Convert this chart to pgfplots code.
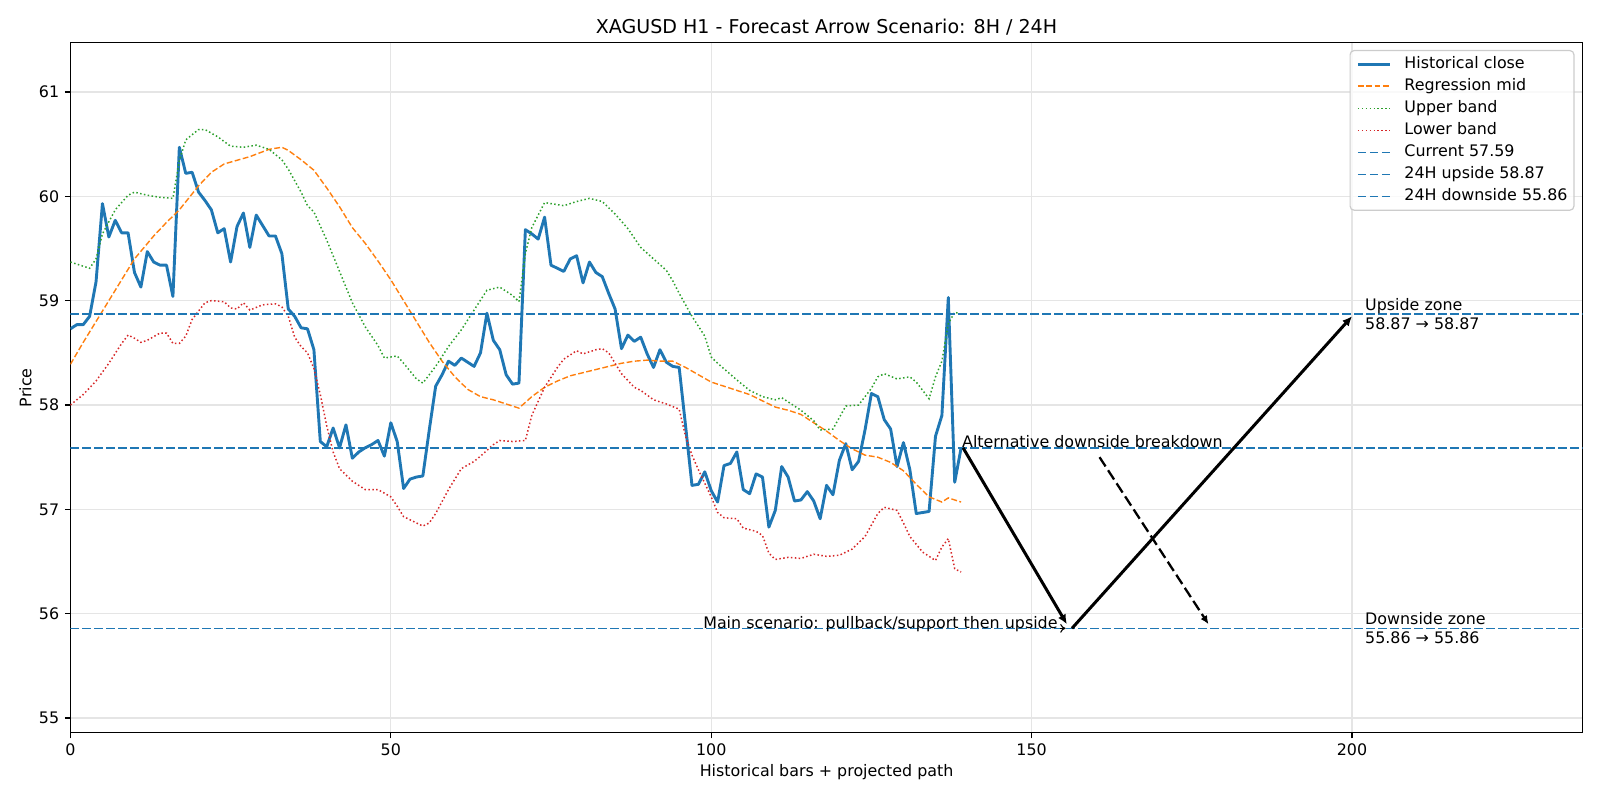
\documentclass[border=0pt]{standalone}
\usepackage{fontspec}
\setmainfont{DejaVu Sans}
\usepackage{pgfplots}
\pgfplotsset{compat=1.18}
\usetikzlibrary{arrows.meta}
\definecolor{tabblue}{HTML}{1F77B4}
\definecolor{taborange}{HTML}{FF7F0E}
\definecolor{tabgreen}{HTML}{2CA02C}
\definecolor{tabred}{HTML}{D62728}
\newcommand{\fs}{\fontsize{7.94bp}{9.5bp}\selectfont}

\pgfplotstableread{
x y
0 58.73
1 58.77
2 58.77
3 58.85
4 59.18
5 59.93
6 59.61
7 59.77
8 59.65
9 59.65
10 59.27
11 59.13
12 59.47
13 59.37
14 59.34
15 59.34
16 59.04
17 60.47
18 60.22
19 60.23
20 60.04
21 59.96
22 59.87
23 59.65
24 59.69
25 59.37
26 59.71
27 59.84
28 59.51
29 59.82
30 59.72
31 59.62
32 59.62
33 59.45
34 58.92
35 58.85
36 58.74
37 58.73
38 58.53
39 57.65
40 57.60
41 57.78
42 57.59
43 57.81
44 57.49
45 57.55
46 57.59
47 57.62
48 57.66
49 57.51
50 57.83
51 57.65
52 57.20
53 57.29
54 57.31
55 57.32
56 57.76
57 58.18
58 58.29
59 58.42
60 58.38
61 58.45
62 58.41
63 58.37
64 58.50
65 58.88
66 58.62
67 58.53
68 58.29
69 58.20
70 58.21
71 59.68
72 59.64
73 59.59
74 59.80
75 59.34
76 59.31
77 59.28
78 59.40
79 59.43
80 59.17
81 59.37
82 59.27
83 59.23
84 59.07
85 58.92
86 58.54
87 58.67
88 58.61
89 58.65
90 58.49
91 58.36
92 58.53
93 58.41
94 58.37
95 58.36
96 57.80
97 57.23
98 57.24
99 57.36
100 57.18
101 57.07
102 57.42
103 57.44
104 57.55
105 57.19
106 57.15
107 57.34
108 57.31
109 56.83
110 56.99
111 57.41
112 57.31
113 57.08
114 57.09
115 57.17
116 57.08
117 56.91
118 57.23
119 57.14
120 57.47
121 57.63
122 57.38
123 57.46
124 57.76
125 58.11
126 58.08
127 57.86
128 57.77
129 57.41
130 57.64
131 57.38
132 56.96
133 56.97
134 56.98
135 57.70
136 57.90
137 59.03
138 57.26
139 57.59
}\closetable

\pgfplotstableread{
x y
0 58.39
2 58.60
5 58.90
8 59.20
10 59.40
13 59.62
15 59.75
17 59.87
20 60.10
22 60.23
24 60.31
28 60.38
31 60.45
33 60.47
34 60.44
36 60.35
38 60.25
40 60.08
42 59.90
44 59.70
46 59.55
48 59.38
50 59.20
52 59.00
54 58.80
56 58.60
58 58.42
60 58.27
62 58.15
64 58.08
66 58.05
68 58.01
70 57.97
72 58.08
74 58.17
76 58.23
78 58.28
80 58.31
82 58.34
84 58.37
86 58.40
88 58.42
90 58.43
92 58.42
94 58.42
96 58.36
98 58.29
100 58.22
102 58.18
104 58.14
106 58.10
108 58.04
110 57.98
112 57.95
114 57.91
116 57.83
118 57.75
120 57.66
122 57.58
124 57.52
126 57.50
128 57.45
130 57.37
132 57.24
134 57.12
136 57.07
137 57.11
139 57.07
}\midtable

\pgfplotstableread{
x y
0 59.37
3 59.31
4 59.40
5 59.64
7 59.87
9 60.01
10 60.04
12 60.01
14 59.99
16 59.98
17 60.34
18 60.54
20 60.64
21 60.64
23 60.57
25 60.48
27 60.47
29 60.49
31 60.45
33 60.35
34 60.26
36 60.04
37 59.91
38 59.85
40 59.58
42 59.28
44 58.98
46 58.75
48 58.57
49 58.45
51 58.47
52 58.40
54 58.25
55 58.21
57 58.37
59 58.56
61 58.72
63 58.91
65 59.10
67 59.13
69 59.05
70 58.99
71 59.45
72 59.70
74 59.94
77 59.91
79 59.95
81 59.98
83 59.95
85 59.83
87 59.69
89 59.51
91 59.40
93 59.29
94 59.19
95 59.07
97 58.85
99 58.66
100 58.46
101 58.40
104 58.24
106 58.14
108 58.08
110 58.05
111 58.07
114 57.95
116 57.85
117 57.76
119 57.77
121 57.99
123 58.00
125 58.16
126 58.27
127 58.30
129 58.25
131 58.27
132 58.22
134 58.06
135 58.27
136 58.42
137 58.78
138 58.89
139 58.87
}\uppertable

\pgfplotstableread{
x y
0 58.00
2 58.10
4 58.23
6 58.40
8 58.59
9 58.67
10 58.64
11 58.60
12 58.62
14 58.69
15 58.69
16 58.59
17 58.59
18 58.66
19 58.82
20 58.90
21 58.98
22 59.00
24 58.99
25 58.93
26 58.92
27 58.98
28 58.91
30 58.96
32 58.97
33 58.94
34 58.85
35 58.65
36 58.56
37 58.50
38 58.35
39 58.10
40 57.80
41 57.55
42 57.39
44 57.27
46 57.19
48 57.19
50 57.12
51 57.03
52 56.93
54 56.87
55 56.84
56 56.87
57 56.96
59 57.19
61 57.39
63 57.46
64 57.51
66 57.62
67 57.66
69 57.65
71 57.66
72 57.90
74 58.17
76 58.36
77 58.44
79 58.52
80 58.49
82 58.53
83 58.54
84 58.50
86 58.30
88 58.17
89 58.14
91 58.05
93 58.01
95 57.96
96 57.70
97 57.52
98 57.38
100 57.12
101 56.97
102 56.92
104 56.91
105 56.82
107 56.79
108 56.75
109 56.58
110 56.52
112 56.54
114 56.53
116 56.57
118 56.55
120 56.56
122 56.62
124 56.74
126 56.96
127 57.02
129 56.99
130 56.87
131 56.74
133 56.59
135 56.51
136 56.64
137 56.72
138 56.43
139 56.40
}\lowertable

\begin{document}
\fs
\begin{tikzpicture}[font=\fs]
\useasboundingbox (-35.2bp,-33.65bp) rectangle (764.8bp,366.35bp);
\begin{axis}[
  at={(0,0)}, anchor=south west,
  scale only axis, width=756.15bp, height=344.9bp,
  xmin=0, xmax=236, ymin=54.86, ymax=61.47,
  xtick={0,50,100,150,200}, ytick={55,56,57,58,59,60,61},
  grid=major, major grid style={draw=black!10, line width=0.6bp},
  tick align=outside, tick pos=left, major tick length=2.78bp,
  every tick/.style={black, line width=0.6bp},
  axis line style={line width=0.6bp},
  /pgf/number format/assume math mode=true,
  ticklabel style={font=\fs},
  every axis title shift=0pt,
  title={XAGUSD H1 - Forecast Arrow Scenario: 8H / 24H},
  title style={font=\fontsize{9.52bp}{11.4bp}\selectfont, at={(axis description cs:0.5,1)}, anchor=base, yshift=4.8bp},
  xlabel={Historical bars + projected path},
  xlabel style={font=\fs, at={(axis description cs:0.5,0)}, anchor=base, yshift=-22bp},
  ylabel={Price},
  ylabel style={font=\fs, at={(axis description cs:-0.02976,0.5)}, anchor=center},
  legend cell align=left,
  legend style={at={(1,1)}, anchor=north east, xshift=-4.1bp, yshift=-3.55bp,
    draw=black!20, line width=0.6bp, rounded corners=2bp, fill=white, fill opacity=0.8, text opacity=1,
    font=\fs, inner xsep=3.2bp, inner ysep=2.8bp, row sep=3.15bp,
    nodes={inner sep=0pt, text height=6.0bp, text depth=1.9bp},
    /tikz/every odd column/.append style={column sep=6.6bp}},
  legend image code/.code={\draw[#1] (0bp,0bp) -- (15.9bp,0bp);},
  clip=true,
]
\addplot[tabblue, line width=1.45bp, line join=round] table {\closetable};
\addlegendentry{Historical close}
\addplot[taborange, line width=0.7bp, dash pattern=on 2.9bp off 1.25bp] table {\midtable};
\addlegendentry{Regression mid}
\addplot[tabgreen, line width=0.75bp, dash pattern=on 0.75bp off 1.2bp] table {\uppertable};
\addlegendentry{Upper band}
\addplot[tabred, line width=0.75bp, dash pattern=on 0.75bp off 1.2bp] table {\lowertable};
\addlegendentry{Lower band}
\addplot[tabblue, line width=0.8bp, dash pattern=on 4.2bp off 1.8bp] coordinates {(0,57.59) (236,57.59)};
\addlegendentry{Current 57.59}
\addplot[tabblue, line width=0.8bp, dash pattern=on 4.2bp off 1.8bp] coordinates {(0,58.87) (236,58.87)};
\addlegendentry{24H upside 58.87}
\addplot[tabblue, line width=0.8bp, dash pattern=on 4.2bp off 1.8bp] coordinates {(0,55.86) (236,55.86)};
\addlegendentry{24H downside 55.86}

% scenario arrows
\addplot[black, line width=1.5bp, -{Latex[length=4.8bp,width=4.4bp]}, forget plot] coordinates {(139.3,57.59) (155.5,55.90)};
\addplot[black, line width=1.5bp, -{Latex[length=4.8bp,width=4.4bp]}, forget plot] coordinates {(156.3,55.86) (200.0,58.85)};
\addplot[black, line width=1.15bp, dash pattern=on 5.5bp off 2.3bp, -{Latex[length=4.2bp,width=3.8bp]}, forget plot] coordinates {(160.6,57.50) (177.6,55.90)};
\addplot[black, line width=0.55bp, -{To[length=2.7bp,width=4.4bp]}, forget plot] coordinates {(154.5,55.86) (155.3,55.86)};

\node[anchor=base west, inner sep=0pt] at (axis cs:139.1,57.59) {Alternative downside breakdown};
\node[anchor=base east, inner sep=0pt] at (axis cs:154.1,55.86) {Main scenario: pullback/support then upside};
\node[anchor=west, align=left, inner sep=0pt] at (axis cs:202,58.87) {Upside zone\\58.87 → 58.87};
\node[anchor=west, align=left, inner sep=0pt] at (axis cs:202,55.86) {Downside zone\\55.86 → 55.86};
\end{axis}
\end{tikzpicture}
\end{document}
